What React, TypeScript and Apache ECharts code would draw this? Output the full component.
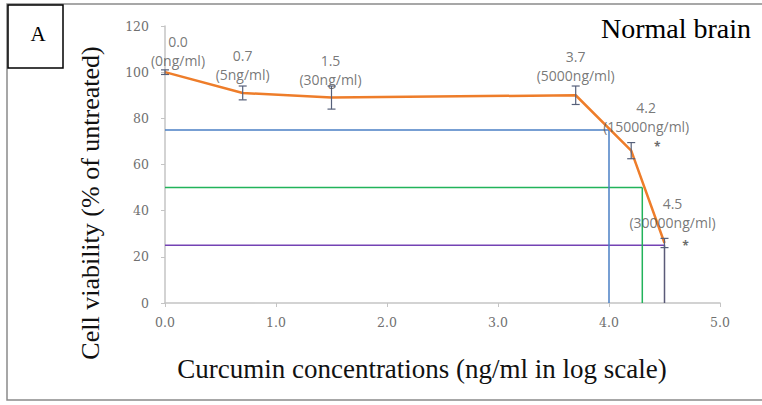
import React, { useEffect, useRef } from "react";
import * as echarts from "echarts";

const logConc = [0.0, 0.7, 1.5, 3.7, 4.2, 4.5];
const concLabels = ["0ng/ml", "5ng/ml", "30ng/ml", "5000ng/ml", "15000ng/ml", "30000ng/ml"];
const viability = [100, 91, 89, 90, 66, 26];
const errors = [1, 3, 5, 4, 3.5, 2];
const significant = [false, false, false, false, true, true];
const thresholds = [75, 50, 25];
const thresholdX = [4.0, 4.3, 4.5];
const thresholdColors = ["#4a7fc4", "#22b35a", "#7442b4"];
const thresholdVColors = ["#4a7fc4", "#22b35a", "#5a5a78"];
const xTitle = "Curcumin concentrations (ng/ml in log scale)";
const yTitle = "Cell viability (% of untreated)";
const panelTitle = "Normal brain";
const panelLetter = "A";

const labelOffsets: [number, number][] = [
  [13, -21],
  [0, -28],
  [-1, -28],
  [0, -29],
  [15, -34],
  [8, -30],
];
const starOffsets: [number, number][] = [
  [0, 0], [0, 0], [0, 0], [0, 0], [26, -4], [21, 3],
];

export default function App() {
  const ref = useRef<HTMLDivElement>(null);
  useEffect(() => {
    if (!ref.current) return;
    const chart = echarts.init(ref.current, undefined, { renderer: "svg" });
    const mainData = logConc.map((x, i) => [x, viability[i]]);
    const refSeries: any[] = thresholds.map((t, i) => ({
      type: "line",
      data: [[0, t], [thresholdX[i], t]],
      symbol: "none",
      lineStyle: { color: thresholdColors[i], width: 1.5 },
      z: 2,
    }));
    const refV: any[] = thresholds.map((t, i) => ({
      type: "line",
      data: [[thresholdX[i], t], [thresholdX[i], 0]],
      symbol: "none",
      lineStyle: { color: thresholdVColors[i], width: 1.5 },
      z: 2,
    }));
    const tickFont = {
      fontFamily: "DejaVu Serif",
      fontSize: 12.5,
      color: "#707070",
    };
    const option: any = {
      animation: false,
      backgroundColor: "#ffffff",
      grid: { left: 165, right: 42, top: 26, bottom: 102 },
      xAxis: {
        type: "value",
        min: 0,
        max: 5,
        interval: 1,
        axisLine: { lineStyle: { color: "#c4c4c4", width: 1.5 } },
        axisTick: { show: true, length: 4, lineStyle: { color: "#c4c4c4" } },
        splitLine: { show: false },
        axisLabel: {
          formatter: (v: number) => v.toFixed(1),
          ...tickFont,
          margin: 13,
        },
      },
      yAxis: {
        type: "value",
        min: 0,
        max: 120,
        interval: 20,
        axisLine: { show: true, lineStyle: { color: "#c4c4c4", width: 1.5 } },
        axisTick: { show: true, length: 4, lineStyle: { color: "#c4c4c4" } },
        splitLine: { show: false },
        axisLabel: {
          ...tickFont,
          margin: 16,
        },
      },
      graphic: [
        {
          type: "rect",
          shape: { x: 7, y: 4, width: 770, height: 396 },
          style: { fill: "none", stroke: "#8a8a8a", lineWidth: 1.5 },
          z: 10,
        },
        {
          type: "rect",
          shape: { x: 8, y: 5, width: 55, height: 63 },
          style: { fill: "#fff", stroke: "#000", lineWidth: 1.5 },
          z: 11,
        },
        {
          type: "text",
          x: 38,
          y: 34,
          style: {
            text: panelLetter,
            fontFamily: "Liberation Serif",
            fontSize: 21,
            fill: "#000",
            align: "center",
            verticalAlign: "middle",
          },
          z: 12,
        },
        {
          type: "text",
          x: 751,
          y: 28,
          style: {
            text: panelTitle,
            fontFamily: "Liberation Serif",
            fontSize: 28,
            fill: "#000",
            align: "right",
            verticalAlign: "middle",
          },
          z: 12,
        },
        {
          type: "text",
          x: 422,
          y: 369,
          style: {
            text: xTitle,
            fontFamily: "Liberation Serif",
            fontSize: 27,
            fill: "#111",
            align: "center",
            verticalAlign: "middle",
          },
          z: 12,
        },
        {
          type: "text",
          x: 90,
          y: 203,
          rotation: Math.PI / 2,
          style: {
            text: yTitle,
            fontFamily: "Liberation Serif",
            fontSize: 26,
            fill: "#111",
            align: "center",
            verticalAlign: "middle",
          },
          z: 12,
        },
      ],
      series: [
        ...refSeries,
        ...refV,
        {
          type: "line",
          data: mainData,
          symbol: "none",
          lineStyle: { color: "#ee7d2a", width: 2.5 },
          z: 5,
        },
        {
          type: "custom",
          z: 6,
          data: logConc.map((x, i) => [x, viability[i] - errors[i], viability[i] + errors[i]]),
          renderItem: (params: any, api: any) => {
            const x = api.value(0);
            const lo = api.coord([x, api.value(1)]);
            const hi = api.coord([x, api.value(2)]);
            const w = 4;
            const style = { stroke: "#56607a", lineWidth: 1.2, fill: "none" };
            return {
              type: "group",
              children: [
                { type: "line", shape: { x1: lo[0], y1: lo[1], x2: hi[0], y2: hi[1] }, style },
                { type: "line", shape: { x1: lo[0] - w, y1: lo[1], x2: lo[0] + w, y2: lo[1] }, style },
                { type: "line", shape: { x1: hi[0] - w, y1: hi[1], x2: hi[0] + w, y2: hi[1] }, style },
              ],
            };
          },
        },
        {
          type: "scatter",
          symbolSize: 0,
          z: 7,
          data: mainData.map((d, i) => ({
            value: d,
            label: {
              show: true,
              position: "inside",
              offset: labelOffsets[i],
              formatter: `${logConc[i].toFixed(1)}\n(${concLabels[i]})`,
              fontFamily: "Open Sans",
              fontSize: 14,
              lineHeight: 19,
              color: "#555555",
              align: "center",
              verticalAlign: "middle",
            },
          })),
        },
        {
          type: "scatter",
          symbolSize: 0,
          z: 7,
          data: mainData.map((d, i) => ({
            value: d,
            label: {
              show: significant[i],
              position: "inside",
              offset: starOffsets[i],
              formatter: "*",
              fontFamily: "Open Sans",
              fontSize: 12,
              fontWeight: "bold",
              color: "#444444",
            },
          })),
        },
      ],
    };
    chart.setOption(option);
    return () => chart.dispose();
  }, []);
  return (
    <div
      ref={ref}
      style={{ position: "fixed", left: 0, top: 0, width: 762, height: 405, background: "#fff" }}
    />
  );
}
